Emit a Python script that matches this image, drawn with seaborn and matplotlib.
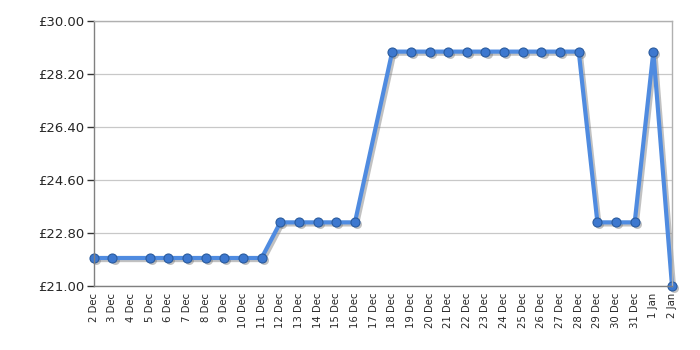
import matplotlib
matplotlib.use("Agg")
import matplotlib.pyplot as plt
import matplotlib.transforms as mtransforms
import seaborn as sns
import pandas as pd

dates = ["2024-12-02", "2024-12-03", "2024-12-05", "2024-12-06", "2024-12-07",
         "2024-12-08", "2024-12-09", "2024-12-10", "2024-12-11", "2024-12-12",
         "2024-12-13", "2024-12-14", "2024-12-15", "2024-12-16", "2024-12-18",
         "2024-12-19", "2024-12-20", "2024-12-21", "2024-12-22", "2024-12-23",
         "2024-12-24", "2024-12-25", "2024-12-26", "2024-12-27", "2024-12-28",
         "2024-12-29", "2024-12-30", "2024-12-31", "2025-01-01", "2025-01-02"]
prices = [21.95, 21.95, 21.95, 21.95, 21.95, 21.95, 21.95, 21.95, 21.95, 23.16,
          23.16, 23.16, 23.16, 23.16, 28.96, 28.96, 28.96, 28.96, 28.96, 28.96,
          28.96, 28.96, 28.96, 28.96, 28.96, 23.16, 23.16, 23.16, 28.96, 21.00]
y_ticks = [21.00, 22.80, 24.60, 26.40, 28.20, 30.00]

df = pd.DataFrame({"date": pd.to_datetime(dates), "price": prices})

sns.set_style("white")
plt.rcParams['font.family'] = ['DejaVu Sans']

fig = plt.figure(figsize=(7, 3.5), dpi=100)
ax = fig.add_axes([0.134, 0.183, 0.826, 0.757])

# shadow
shadow_tr = mtransforms.offset_copy(ax.transData, fig=fig, x=1.5, y=-1.5, units="points")
sns.lineplot(data=df, x="date", y="price", ax=ax, color="#777777", linewidth=3,
             marker="o", markersize=6.5, markeredgewidth=0, alpha=0.45,
             transform=shadow_tr, clip_on=False)
# main line
sns.lineplot(data=df, x="date", y="price", ax=ax, color="#4f8be0", linewidth=3,
             marker="o", markersize=6.5, markerfacecolor="#3d78cf",
             markeredgecolor="#2a5b9e", markeredgewidth=0.8, clip_on=False)

start = pd.Timestamp("2024-12-02")
end = pd.Timestamp("2025-01-02")
ax.set_xlim(start, end)
ax.set_ylim(21, 30)

all_days = pd.date_range(start, end, freq="D")
ax.set_xticks(all_days)
ax.set_xticklabels([f"{d.day} {d.strftime('%b')}" for d in all_days], rotation=90,
                   fontsize=7.3)
ax.tick_params(axis="x", which="major", length=0, pad=5)
weekly = pd.date_range("2024-12-07", end, freq="7D")
ax.set_xticks(weekly, minor=True)
ax.tick_params(axis="x", which="minor", length=5, color="#333333", width=1)
ax.xaxis.grid(True, which="minor", color="#c8c8c8", linewidth=0.9)
ax.xaxis.grid(False, which="major")

ax.set_yticks(y_ticks)
ax.set_yticklabels([f"£{v:.2f}" for v in y_ticks], fontsize=9.5)
ax.tick_params(axis="y", length=5, color="#333333", width=1, pad=2, left=True)
ax.yaxis.grid(True, color="#c8c8c8", linewidth=0.9)

for s in ["top", "right"]:
    ax.spines[s].set_color("#b0b0b0")
for s in ["left", "bottom"]:
    ax.spines[s].set_color("#808080")
for s in ax.spines.values():
    s.set_linewidth(1)
ax.set_xlabel("")
ax.set_ylabel("")
ax.set_axisbelow(True)

fig.savefig("out.png", dpi=100)
